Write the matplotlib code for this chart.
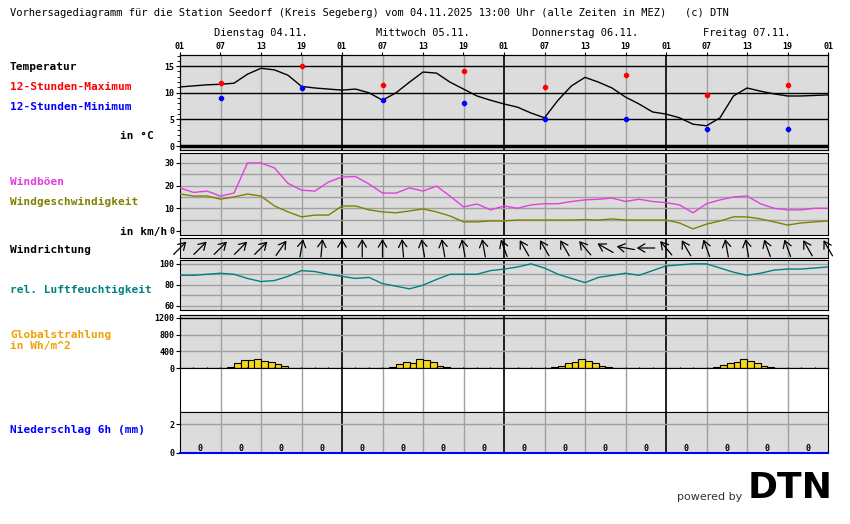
import numpy as np
import matplotlib
matplotlib.use("Agg")
import matplotlib.pyplot as plt
from matplotlib import transforms

plt.rcParams['font.family'] = ['DejaVu Sans Mono']
plt.rcParams['font.weight'] = 'bold'

# hours since 04.11. 01:00, 2-hourly samples
hours = np.arange(0, 97, 2)
temp = [11.1, 11.3, 11.5, 11.6, 11.8, 13.5, 14.6, 14.3, 13.3, 11.2, 10.9, 10.7,
        10.5, 10.7, 10.0, 8.6, 10.0, 12.0, 13.9, 13.7, 12.0, 10.7, 9.4, 8.6,
        7.9, 7.3, 6.2, 5.3, 8.6, 11.3, 12.9, 12.0, 10.9, 9.2, 7.9, 6.4,
        6.0, 5.3, 4.1, 3.8, 5.3, 9.4, 10.9, 10.3, 9.8, 9.4, 9.4, 9.5, 9.6]
gust = [19, 17, 17.6, 15.4, 16.7, 30, 30, 27.8, 21, 18, 17.6, 21.6,
        23.8, 24, 20.7, 16.7, 16.7, 19, 17.6, 19.8, 15.4, 10.6, 11.9, 9.3,
        11, 10, 11.5, 12, 12, 13, 13.7, 14, 14.5, 13, 14, 13,
        12.5, 11.5, 8, 12, 13.7, 15, 15.4, 12, 10, 9.3, 9.3, 10, 10]
wind = [16.3, 15.4, 15.4, 14, 15, 16.3, 15.4, 11, 8.4, 6.2, 7, 7,
        11, 11, 9.3, 8.4, 8, 8.8, 9.7, 8.4, 6.6, 4, 4, 4.4,
        4.4, 4.8, 4.8, 4.8, 4.8, 4.8, 5, 4.8, 5.3, 4.8, 4.8, 4.8,
        4.8, 3.5, 0.9, 3, 4.4, 6.2, 6.2, 5.3, 4, 2.6, 3.5, 4, 4.4]
hum = [89, 89, 90, 91, 90, 86, 83, 84, 88, 93.5, 92.6, 90,
       88, 86, 87, 81, 78.6, 76, 79.5, 85, 90, 90, 90, 93.5,
       95, 97, 100, 96, 90, 86, 82, 87, 89, 91, 89, 93.5,
       98, 99, 100, 100, 96, 92, 89, 91, 94, 95, 95, 96, 97]

# 12h extremes at 07 and 19
ext_hours = [6, 18, 30, 42, 54, 66, 78, 90]
tmax = [11.8, 15.0, 11.4, 14.1, 11.0, 13.3, 9.6, 11.5]
tmin = [9.1, 10.9, 8.6, 8.1, 5.0, 5.0, 3.2, 3.2]

# wind direction arrows every 3h (direction the arrow points, deg clockwise from north)
dir_hours = np.arange(0, 97, 3)
arrow_dir = [45, 45, 45, 45, 45, 35, 10, 5, 0, 0, 0, -5, -10, -10, -10, -10,
             -20, -30, -30, -30, -40, -60, -80, -90, -40, -30, -20, -10, -10,
             -20, -20, -30, -30]

# global radiation, hourly bars from 08:00 each day
rad_start = [7, 31, 55, 79]
rad = [[20, 120, 190, 190, 215, 170, 145, 95, 50],
       [20, 100, 140, 120, 220, 200, 150, 50, 25],
       [20, 60, 120, 150, 220, 180, 120, 60, 25],
       [20, 80, 120, 140, 210, 180, 130, 50, 20]]

precip_hours = np.arange(3, 96, 6)
precip = [0] * 16

day_labels = ["Dienstag 04.11.", "Mittwoch 05.11.", "Donnerstag 06.11.", "Freitag 07.11."]
tick_labels = ["01", "07", "13", "19"] * 4 + ["01"]

W, H = 850, 524
fig = plt.figure(figsize=(W / 100, H / 100), dpi=100)
X0, X1 = 180, 828
BG = "#dcdcdc"


def panel(top, bottom, color=BG):
    ax = fig.add_axes([X0 / W, 1 - bottom / H, (X1 - X0) / W, (bottom - top) / H])
    ax.set_facecolor(color)
    ax.set_xlim(0, 96)
    ax.set_xticks([])
    for s in ax.spines.values():
        s.set_color("black")
    for h in range(6, 96, 6):
        ax.axvline(h, color="black" if h % 24 == 0 else "#a0a0a0", lw=1.2 if h % 24 == 0 else 1, zorder=1)
    ax.tick_params(axis="y", labelsize=6, length=3, pad=1)
    return ax


# temperature
ax = panel(55, 150)
ax.set_ylim(-0.75, 17.1)
for v in (5, 10, 15):
    ax.axhline(v, color="black", lw=1, zorder=1)
ax.axhline(0, color="black", lw=2.5, zorder=1)
ax.plot(hours, temp, color="black", lw=1, zorder=3)
ax.scatter(ext_hours, tmax, color="red", marker="P", s=9, zorder=4)
ax.scatter(ext_hours, tmin, color="blue", marker="P", s=9, zorder=4)
ax.set_yticks([0, 5, 10, 15])
ax.set_yticks(range(0, 18), minor=True)
ax.tick_params(axis="y", which="minor", length=2)
axt = ax.twiny()
axt.set_xlim(0, 96)
axt.set_xticks(range(0, 97, 6))
axt.set_xticklabels(tick_labels, fontsize=6)
axt.tick_params(length=2, pad=1)
for i, lab in enumerate(day_labels):
    fig.text((X0 + (i * 24 + 12) * 6.75) / W, 1 - 33 / H, lab, ha="center", va="center", fontsize=7.5, weight="normal")

# wind
ax = panel(153, 235)
ax.set_ylim(-1.8, 34.4)
for v in range(5, 35, 5):
    ax.axhline(v, color="#a0a0a0", lw=1, zorder=1)
ax.plot(hours, gust, color="#e040e0", lw=1, zorder=3)
ax.plot(hours, wind, color="#808000", lw=1, zorder=3)
ax.set_yticks([0, 10, 20, 30])

# wind direction
ax = panel(238, 258)
ax.set_ylim(0, 1)
ax.set_yticks([])
for h, d in zip(dir_hours, arrow_dir):
    dx = 6.5 * np.sin(np.radians(d))
    dy = 6.5 * np.cos(np.radians(d))
    tr = transforms.offset_copy(ax.transData, fig, x=dx, y=dy, units="points")
    ax.annotate("", xy=(h, 0.5), xycoords=tr, xytext=(-2 * dx, -2 * dy), textcoords="offset points",
                arrowprops=dict(arrowstyle="->,head_length=0.5,head_width=0.3", lw=0.9,
                                color="black", shrinkA=0, shrinkB=0))

# humidity
ax = panel(260, 310)
ax.set_ylim(55.7, 103.7)
for v in (60, 70, 80, 90, 100):
    ax.axhline(v, color="#a0a0a0", lw=1, zorder=1)
ax.plot(hours, hum, color="#008080", lw=1, zorder=3)
ax.set_yticks([60, 80, 100])

# global radiation
ax = panel(315, 368)
ax.set_ylim(0, 1272)
for v in (400, 800):
    ax.axhline(v, color="#a0a0a0", lw=1, zorder=1)
ax.axhline(1200, color="black", lw=1, zorder=1)
for s, vals in zip(rad_start, rad):
    ax.bar(np.arange(s, s + len(vals)), vals, width=1, align="edge",
           color="#f5d81a", edgecolor="black", lw=0.8, zorder=3)
ax.set_yticks([0, 400, 800, 1200])
axb = ax.twiny()
axb.set_xlim(0, 96)
axb.xaxis.set_ticks_position("bottom")
axb.set_xticks(range(0, 97, 2))
axb.set_xticklabels([])
axb.tick_params(length=2, direction="inout")

# white gap panel
ax = panel(368, 412, color="white")
ax.set_ylim(0, 1)
ax.set_yticks([])

# precipitation
ax = panel(412, 453)
ax.set_ylim(0, 2.83)
ax.axhline(2, color="#a0a0a0", lw=1, zorder=1)
for h, p in zip(precip_hours, precip):
    ax.text(h, 0.3, str(p), ha="center", va="center", fontsize=6)
ax.set_yticks([0, 2])
ax.spines["bottom"].set_color("blue")
ax.spines["bottom"].set_linewidth(1.5)

# texts
fig.text(10 / W, 1 - 13 / H, "Vorhersagediagramm für die Station Seedorf (Kreis Segeberg) vom 04.11.2025 13:00 Uhr (alle Zeiten in MEZ)   (c) DTN",
         fontsize=7.5, weight="normal", va="center")
labels = [(67, "Temperatur", "black", 10), (87, "12-Stunden-Maximum", "red", 10),
          (107, "12-Stunden-Minimum", "blue", 10), (136, "in °C", "black", 120),
          (182, "Windböen", "#e040e0", 10), (202, "Windgeschwindigkeit", "#808000", 10),
          (232, "in km/h", "black", 120), (250, "Windrichtung", "black", 10),
          (290, "rel. Luftfeuchtigkeit", "#008080", 10), (335, "Globalstrahlung", "#f0a000", 10),
          (346, "in Wh/m^2", "#f0a000", 10), (430, "Niederschlag 6h (mm)", "blue", 10)]
for y, t, c, x in labels:
    fig.text(x / W, 1 - y / H, t, color=c, fontsize=8, va="center")

fig.text(742 / W, 1 - 497 / H, "powered by", fontsize=8, weight="normal", color="#333333",
         ha="right", va="center", family="DejaVu Sans")
fig.text(748 / W, 1 - 488 / H, "DTN", fontsize=26, weight="bold", color="black",
         va="center", family="DejaVu Sans")

fig.savefig("out.png", dpi=100)
